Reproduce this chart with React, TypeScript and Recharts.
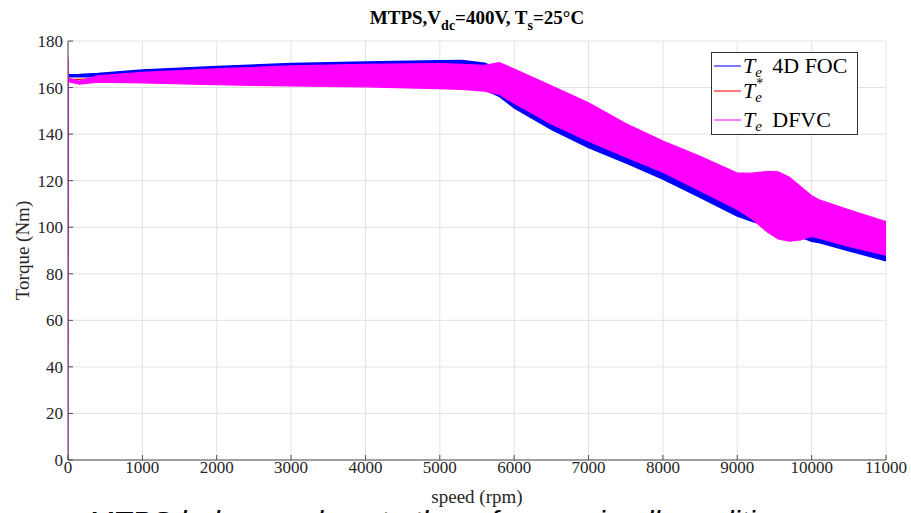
import React from "react";
import {
  ComposedChart,
  Area,
  XAxis,
  YAxis,
  CartesianGrid,
  Legend,
} from "recharts";

// speed samples (rpm)
const speed = [
  0, 5, 150, 400, 1000, 2000, 3000, 4000, 5000, 5300, 5600, 5800, 6000, 6500,
  7000, 7500, 8000, 8500, 9000, 9200, 9400, 9550, 9700, 9850, 10000, 10100,
  10500, 11000,
];

// Te 4D FOC envelope (Nm)
const focHigh = [
  165.3, 165.5, 165.6, 166, 167.5, 169, 170.3, 171, 171.5, 171.6, 170.5, 168,
  165, 157, 149.5, 141, 133.5, 127, 120, 119, 119.5, 119, 117, 114, 110.5,
  108.5, 104, 98.5,
];
const focLow = [
  164.6, 164.6, 164.7, 164.5, 163, 162.2, 161.7, 161.3, 160.5, 160.2, 159,
  156.2, 151.3, 142, 134.2, 127.7, 120.7, 112.8, 104.8, 102.5, 100.5, 99, 97.4,
  95.8, 94, 93.4, 89.9, 85.6,
];

// Te* reference (Nm)
const reference = [
  163.5, 163.5, 163.5, 164, 164.3, 164.6, 165, 165.2, 165, 164.8, 164, 163.5,
  160.5, 152.5, 145, 137.5, 130.5, 123, 115.5, 113.5, 111.5, 109.5, 107.5,
  105.5, 104, 103.5, 99.7, 95,
];

// Te DFVC envelope (Nm)
const dfvcHigh = [
  173, 164, 162.8, 165, 166.5, 168, 169.3, 170, 170.3, 170, 169.5, 170.7, 168,
  160.8, 153.5, 144.5, 137, 130.5, 123.3, 123.2, 124, 123.8, 121.5, 117.5,
  113.5, 111.8, 107.5, 102.4,
];
const dfvcLow = [
  0, 162.5, 161.5, 162.3, 162, 161.2, 160.7, 160.3, 159.5, 159.2, 158.5, 157,
  153.3, 144.4, 137, 130.2, 123.6, 115.7, 107.6, 103.5, 98, 95, 94, 94.5, 96,
  95.3, 91.8, 88,
];

const xTicks = [0, 1000, 2000, 3000, 4000, 5000, 6000, 7000, 8000, 9000, 10000, 11000];
const yTicks = [0, 20, 40, 60, 80, 100, 120, 140, 160, 180];

const legendItems = [
  { key: "foc", color: "#7a7aff", star: false, text: "4D FOC" },
  { key: "ref", color: "#ff7a7a", star: true, text: "" },
  { key: "dfvc", color: "#ff7aff", star: false, text: "DFVC" },
];

const data = speed.map((s, i) => ({
  speed: s,
  foc: [focLow[i], focHigh[i]],
  ref: reference[i],
  dfvc: [dfvcLow[i], dfvcHigh[i]],
}));

const serif = "'Liberation Serif', 'DejaVu Serif', serif";
const tickStyle = { fill: "#262626", fontSize: 17, fontFamily: serif };

const LegendBox = () => (
  <div
    style={{
      position: "relative",
      width: 145,
      height: 81,
      border: "1px solid #333",
      background: "#fff",
      fontFamily: serif,
      fontSize: 22,
      color: "#000",
    }}
  >
    {legendItems.map((item, i) => (
      <div
        key={item.key}
        style={{
          position: "absolute",
          left: 2,
          top: [1, 26, 55][i],
          height: 24,
          display: "flex",
          alignItems: "center",
          whiteSpace: "nowrap",
        }}
      >
        <span
          style={{
            display: "inline-block",
            width: 27,
            height: 2,
            background: item.color,
            marginRight: 2,
          }}
        />
        <span style={{ fontStyle: "italic" }}>T</span>
        <span
          style={{
            position: "relative",
            display: "inline-block",
            width: 11,
            height: 24,
          }}
        >
          {item.star && (
            <span style={{ position: "absolute", left: 1, top: 0, fontSize: 14, lineHeight: "10px" }}>
              *
            </span>
          )}
          <span
            style={{
              position: "absolute",
              left: 0,
              top: 12,
              fontSize: 15,
              lineHeight: "12px",
              fontStyle: "italic",
            }}
          >
            e
          </span>
        </span>
        {item.text && <span style={{ marginLeft: 6 }}>{item.text}</span>}
      </div>
    ))}
  </div>
);

const App: React.FC = () => {
  return (
    <div
      style={{
        position: "absolute",
        left: 0,
        top: 0,
        width: 911,
        height: 513,
        overflow: "hidden",
        background: "#fff",
      }}
    >
      <div
        style={{
          position: "absolute",
          left: 68,
          top: 8,
          width: 818,
          textAlign: "center",
          fontFamily: serif,
          fontWeight: "bold",
          fontSize: 19,
          lineHeight: "19px",
          color: "#000",
          zIndex: 2,
        }}
      >
        MTPS,V<sub style={{ fontSize: 14, verticalAlign: -6, lineHeight: 0 }}>dc</sub>=400V, T
        <sub style={{ fontSize: 14, verticalAlign: -6, lineHeight: 0 }}>s</sub>=25°C
      </div>

      <ComposedChart
        width={911}
        height={513}
        data={data}
        margin={{ top: 41, right: 25, bottom: 0, left: 0 }}
      >
        <CartesianGrid stroke="#e2e2e2" strokeWidth={1} />
        <XAxis
          dataKey="speed"
          type="number"
          domain={[0, 11000]}
          ticks={xTicks}
          allowDataOverflow
          height={53}
          tick={tickStyle}
          tickSize={-5}
          tickMargin={6}
          tickLine={{ stroke: "#4d4d4d" }}
          axisLine={{ stroke: "#4d4d4d" }}
          label={{
            value: "speed (rpm)",
            position: "insideBottom",
            offset: 10,
            fill: "#262626",
            fontSize: 19,
            fontFamily: serif,
          }}
        />
        <XAxis
          xAxisId="top"
          orientation="top"
          type="number"
          domain={[0, 11000]}
          ticks={xTicks}
          allowDataOverflow
          height={0}
          tick={false}
          tickSize={-5}
          tickLine={{ stroke: "#4d4d4d" }}
          axisLine={{ stroke: "#4d4d4d" }}
        />
        <YAxis
          type="number"
          domain={[0, 180]}
          ticks={yTicks}
          allowDataOverflow
          width={68}
          tick={tickStyle}
          tickSize={-5}
          tickMargin={10}
          tickLine={{ stroke: "#4d4d4d" }}
          axisLine={{ stroke: "#4d4d4d" }}
          label={{
            value: "Torque (Nm)",
            angle: -90,
            position: "insideLeft",
            offset: 22,
            fill: "#262626",
            fontSize: 19,
            fontFamily: serif,
            style: { textAnchor: "middle" },
          }}
        />
        <YAxis
          yAxisId="right"
          orientation="right"
          type="number"
          domain={[0, 180]}
          ticks={yTicks}
          allowDataOverflow
          width={0}
          tick={false}
          tickSize={-5}
          tickLine={{ stroke: "#4d4d4d" }}
          axisLine={{ stroke: "#4d4d4d" }}
        />
        <Area
          name="Te 4D FOC"
          dataKey="foc"
          type="linear"
          stroke="#0000ff"
          strokeWidth={1.5}
          fill="#0000ff"
          fillOpacity={1}
          dot={false}
          activeDot={false}
          isAnimationActive={false}
        />
        <Area
          name="Te*"
          dataKey="ref"
          type="linear"
          stroke="#ff0000"
          strokeWidth={1.2}
          fill="none"
          baseValue="dataMin"
          dot={false}
          activeDot={false}
          isAnimationActive={false}
        />
        <Area
          name="Te DFVC"
          dataKey="dfvc"
          type="linear"
          stroke="#ff00ff"
          strokeWidth={1.2}
          fill="#ff00ff"
          fillOpacity={1}
          dot={false}
          activeDot={false}
          isAnimationActive={false}
        />
        <Legend
          layout="vertical"
          align="center"
          verticalAlign="middle"
          content={() => <LegendBox />}
          wrapperStyle={{ left: 711, top: 52, width: 147, height: 83 }}
        />
      </ComposedChart>

      <div
        style={{
          position: "absolute",
          left: 88,
          top: 507,
          fontFamily: "'Liberation Sans', Arial, sans-serif",
          fontStyle: "italic",
          fontSize: 30,
          lineHeight: "30px",
          color: "#000",
          whiteSpace: "nowrap",
        }}
      >
        MTPS behaves close to the reference in all conditions
      </div>
    </div>
  );
};

export default App;
